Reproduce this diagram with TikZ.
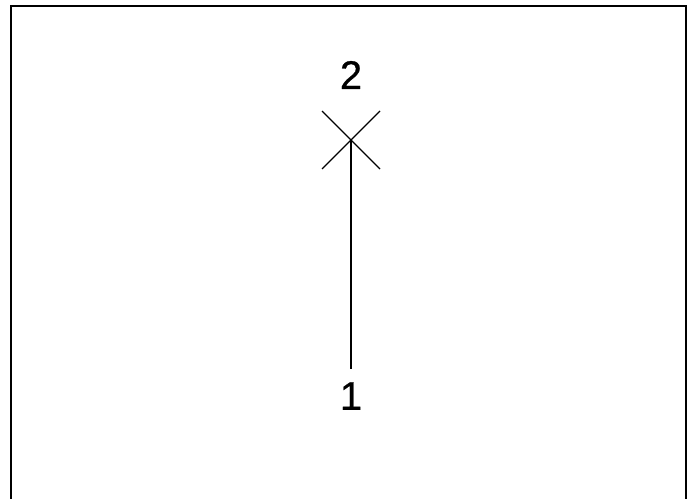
\documentclass[tikz,border=0pt]{standalone}
\usepackage{fontspec}
\setmainfont{Liberation Sans}
\newfontfamily\digitfont[FakeBold=0.6]{Liberation Sans}
\begin{document}
\begin{tikzpicture}[x=1pt,y=-1pt,
  lbl/.style={font=\digitfont\fontsize{40}{42}\selectfont, inner sep=0pt},
  crossline/.style={line width=1.1pt},
  stem/.style={line width=2pt}]
\useasboundingbox (0,0) rectangle (692,498);
\draw[line width=1.5pt] (11,500) -- (11,6) -- (686,6) -- (686,500);
\coordinate (c) at (351,140);
\coordinate (b) at (351,369);
\draw[crossline] (322,111) -- (380,169);
\draw[crossline] (380,111) -- (322,169);
\draw[stem] (c) -- (b);
\node[lbl] (n2) at (351,75) {2};
\node[lbl] (n1) at (351,396) {1};
\end{tikzpicture}
\end{document}
